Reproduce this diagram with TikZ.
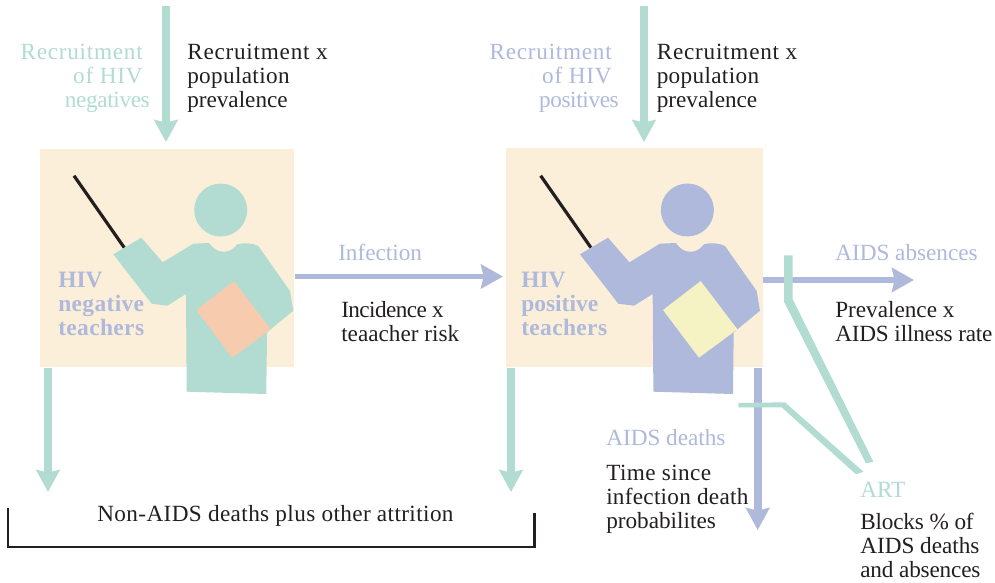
\documentclass[tikz,border=0pt]{standalone}
\usepackage{fontspec}
\setmainfont{Liberation Serif}
\usetikzlibrary{arrows.meta}
\definecolor{mint}{HTML}{B2DCD2}
\definecolor{peri}{HTML}{AFB9DC}
\definecolor{cream}{HTML}{FBEFD9}
\definecolor{peach}{HTML}{F7CBAE}
\definecolor{lemon}{HTML}{F5F2C3}
\definecolor{ink}{HTML}{231F20}
\newcommand{\trk}[2]{{\addfontfeature{LetterSpace=#1}#2}}
\newcommand{\rgap}{\hbox to 5.25pt{}}
\tikzset{
  lbl/.style={inner sep=0pt,anchor=north west,align=left,text=ink,font=\fontsize{17.4}{18}\selectfont,execute at begin node=\strut},
  lblr/.style={lbl,anchor=north east,align=right},
  tealtxt/.style={text=mint},
  peritxt/.style={text=peri},
  boldlbl/.style={lbl,text=peri,font=\fontsize{17.6}{18}\selectfont\bfseries},
  board/.style={fill=cream,inner sep=0pt,anchor=north west},
  flow/.style={line width=6.3pt,-{Stealth[length=16.5pt,width=17.5pt,inset=2pt]}},
  thinflow/.style={line width=4pt,-{Stealth[length=16.5pt,width=18pt,inset=2pt]}},
  block/.style={fill=mint},
  rod/.style={ink,line width=2.4pt},
  bracket/.style={ink,line width=2.2pt}
}
\newcommand{\teacherfig}[3]{%
  \begin{scope}[shift={(#1,0)}]
    \draw[rod] (74,175.7) -- (124.3,247.7);
    \fill[#2] (220.7,210) circle[radius=26.5];
    \fill[#2] (113.3,254.3) -- (141.3,237.7) -- (162.7,262.3) -- (193.3,243.7) -- (209,243)
      .. controls (213,248) and (217,251.7) .. (223.3,251.7)
      .. controls (231,251.7) and (234,248) .. (237.3,244.3)
      .. controls (244,242.5) and (252,243) .. (258.3,246) -- (290,291) -- (293.3,310.7)
      -- (270.7,329.3) -- (267,332.7) -- (266.3,394) -- (186.7,391.7) -- (186,294)
      -- (167.3,305.7) -- (151.7,303.7) -- cycle;
    \fill[#3] (234,281) -- (270.7,329.3) -- (232.3,357.7) -- (196.3,310) -- cycle;
  \end{scope}}
\begin{document}
\begin{tikzpicture}[x=0.75pt,y=-0.75pt]
\useasboundingbox (0,0) rectangle (995,582);
\fill[white] (0,0) rectangle (995,582);
% boards
\node[board,minimum width=190.5pt,minimum height=163.5pt] (negbox) at (40,149) {};
\node[board,minimum width=192.5pt,minimum height=164.25pt] (posbox) at (506,148) {};
% coordinates
\coordinate (negtop) at (166,6);
\coordinate (negend) at (166,142);
\coordinate (postop) at (644,6);
\coordinate (posend) at (644,142);
\coordinate (negout) at (48,492);
\coordinate (posout) at (511,492);
\coordinate (dthout) at (757.7,530);
\coordinate (infin) at (503,276.5);
\coordinate (absout) at (914,280);
\coordinate (brA) at (8,508);
\coordinate (brB) at (8,547);
\coordinate (brC) at (534.5,547);
\coordinate (brD) at (534.5,513);
% flow arrows
\draw[flow,mint] (negtop) -- (negend);
\draw[flow,mint] (postop) -- (posend);
\draw[flow,mint] (negbox.south -| negout) -- (negout);
\draw[flow,mint] (posbox.south -| posout) -- (posout);
\draw[flow,peri] (posbox.south -| dthout) -- (dthout);
\draw[thinflow,peri] (negbox.east |- infin) -- (infin);
\draw[thinflow,peri] (posbox.east |- absout) -- (absout);
% figures
\teacherfig{0}{mint}{peach}
\teacherfig{466.67}{peri}{lemon}
% ART blocks
\fill[block] (784,255.3) -- (792.7,255.3) -- (792.7,299.3) -- (873.3,461.7) -- (866,463.3) -- (784,301.7) -- cycle;
\fill[block] (738.3,403) -- (785,402.3) -- (863.3,471.7) -- (856,474.3) -- (781.7,407.3) -- (738.3,407.3) -- cycle;
% bracket
\draw[bracket] (brA) -- (brB) -- (brC) -- (brD);
% labels
\node[lblr,tealtxt] (negrec) at (150,44) {\trk{3.2}{Recruitment}\rgap\\\trk{3.5}{of HIV}\rgap\\\trk{-1.5}{negatives}};
\node[lbl] (negrate) at (187,44) {\trk{3.3}{Recruitment x}\\\trk{1.5}{population}\\prevalence};
\node[lblr,peritxt] (posrec) at (619,44) {\trk{3.2}{Recruitment}\rgap\\\trk{3.5}{of HIV}\rgap\\\trk{-1.5}{positives}};
\node[lbl] (posrate) at (656.5,44) {\trk{3.3}{Recruitment x}\\\trk{1.5}{population}\\prevalence};
\node[boldlbl] (negname) at (58,272) {HIV\\\trk{1.5}{negative}\\\trk{1.5}{teachers}};
\node[boldlbl] (posname) at (521,272) {HIV\\positive\\\trk{1.5}{teachers}};
\node[lbl,peritxt] (inf) at (338,243) {Infection};
\node[lbl] (infrate) at (341,301) {\trk{-2.5}{Incidence x}\\teaacher risk};
\node[lbl,peritxt] (abs) at (835,243) {AIDS absences};
\node[lbl] (absrate) at (835,301) {Prevalence x\\\trk{-0.8}{AIDS illness rate}};
\node[lbl,peritxt] (dth) at (606,428) {AIDS deaths};
\node[lbl] (dthrate) at (606,464.5) {\trk{1.8}{Time since}\\\trk{1.2}{infection death}\\probabilites};
\node[lbl,tealtxt] (art) at (860,480) {ART};
\node[lbl] (artnote) at (860,513) {\trk{-0.7}{Blocks \% of}\\AIDS deaths\\\trk{-0.7}{and absences}};
\node[lbl] (attr) at (97,504) {\trk{1.7}{Non-AIDS deaths plus other attrition}};
\end{tikzpicture}
\end{document}
